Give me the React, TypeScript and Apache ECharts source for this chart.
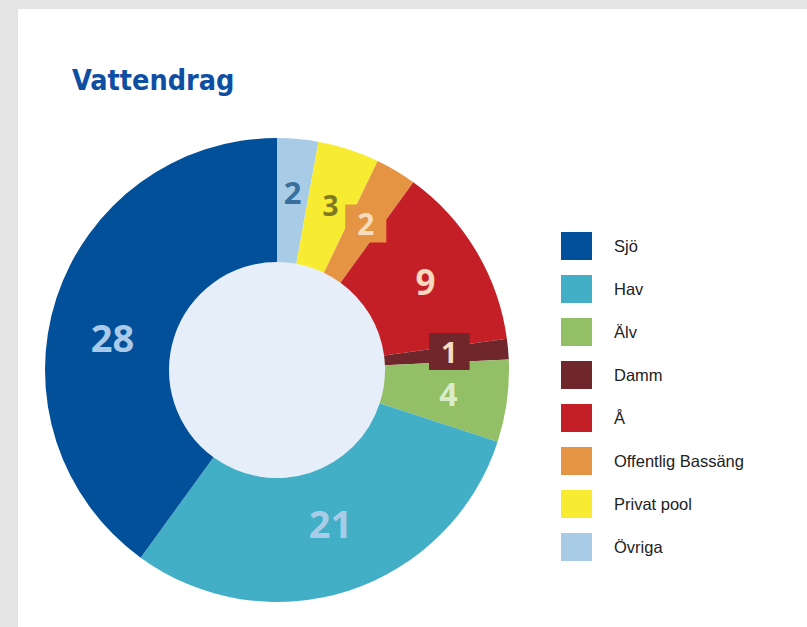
import React, { useEffect, useRef } from "react";
import * as echarts from "echarts";

// Data (clockwise from top)
const categories = ["Övriga", "Privat pool", "Offentlig Bassäng", "Å", "Damm", "Älv", "Hav", "Sjö"];
const values = [2, 3, 2, 9, 1, 4, 21, 28];
const legendOrder = ["Sjö", "Hav", "Älv", "Damm", "Å", "Offentlig Bassäng", "Privat pool", "Övriga"];
const title = "Vattendrag";

// Styles
const sliceColors = ["#a8cbe6", "#f7ec31", "#e59444", "#c41f27", "#70272c", "#93bf67", "#42afc6", "#03509a"];
const labelColors = ["#3a6f9c", "#7d7a22", "#f8dcc0", "#f8d9bd", "#f6dcc2", "#d9edcb", "#a9cde8", "#a9cbe9"];
const labelSizes = [31, 28, 30, 35, 29, 32, 38, 38];
const labelBoxes = [false, false, true, false, true, false, false, false];
const labelNudgeY = [-6, 0, 2, 0, -3, 0, -12, 20];

export default function App() {
  const ref = useRef<HTMLDivElement>(null);
  useEffect(() => {
    document.body.style.margin = "0";
    const chart = echarts.init(ref.current!, null, { renderer: "svg" });
    const data = categories.map((name, i) => ({
      name,
      value: values[i],
      itemStyle: { color: sliceColors[i] },
      label: {
        color: labelColors[i],
        fontSize: labelSizes[i],
        backgroundColor: labelBoxes[i] ? sliceColors[i] : "transparent",
        padding: labelBoxes[i] ? [4, 12, 4, 12] : 0,
      },
    }));
    chart.setOption({
      animation: false,
      backgroundColor: "#e4e4e4",
      graphic: [
        { type: "rect", z: -10, shape: { x: 18, y: 9, width: 800, height: 630 }, style: { fill: "#ffffff" } },
        { type: "circle", z: -5, shape: { cx: 277, cy: 370, r: 108 }, style: { fill: "#e6eff9" } },
        {
          type: "text",
          x: 72,
          y: 80,
          style: {
            text: title,
            fill: "#0e4fa3",
            font: "bold 28.5px 'DejaVu Sans Condensed', 'Liberation Sans', Arial, sans-serif",
            verticalAlign: "middle",
            align: "left",
          },
        },
      ],
      legend: {
        orient: "vertical",
        left: 556,
        top: 227,
        itemWidth: 31,
        itemHeight: 28,
        itemGap: 15,
        icon: "rect",
        selectedMode: false,
        data: legendOrder,
        textStyle: {
          fontFamily: "'Liberation Sans', Arial, sans-serif",
          fontSize: 16.5,
          color: "#222222",
          padding: [0, 0, 0, 17],
        },
      },
      series: [
        {
          type: "pie",
          center: [277, 370],
          radius: [108, 232],
          startAngle: 90,
          clockwise: true,
          silent: true,
          avoidLabelOverlap: false,
          itemStyle: { borderWidth: 0 },
          label: {
            show: true,
            position: "inside",
            formatter: "{c}",
            fontFamily: "'Open Sans', 'Noto Sans', sans-serif",
            fontWeight: "bold",
          },
          labelLayout: (p: any) => ({ dy: labelNudgeY[p.dataIndex] || 0 }),
          labelLine: { show: false },
          emphasis: { disabled: true },
          data,
        },
      ],
    });
    return () => chart.dispose();
  }, []);
  return <div ref={ref} style={{ width: 807, height: 627 }} />;
}
